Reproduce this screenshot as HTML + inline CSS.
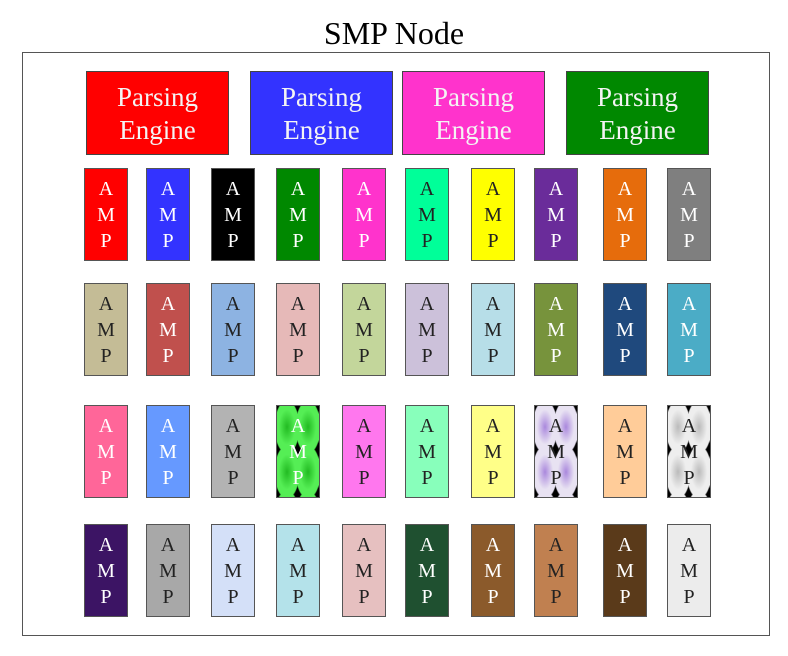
<!DOCTYPE html>
<html><head><style>
body{margin:0;width:788px;height:656px;background:#fff;position:relative;overflow:hidden;font-family:"Liberation Serif",serif}
.t{position:absolute;left:0;width:788px;top:14px;text-align:center;font-size:32px;line-height:38px;color:#000}
.o{position:absolute;left:22px;top:52px;width:746px;height:582px;border:1px solid #555}
.pe{position:absolute;top:71px;width:143px;height:84px;border:1.5px solid #444;color:#f4f4f4;font-size:27px;line-height:33px;text-align:center;box-sizing:border-box;padding-top:9px}
.a{position:absolute;width:44px;height:93px;border:1.5px solid #555;box-sizing:border-box;text-align:center;font-size:20px;line-height:26px;padding-top:7px;color:#fff}
.d{color:#222}
</style></head><body>
<div class="t">SMP Node</div>
<div class="o"></div>
<div class="pe" style="left:86px;background:#f00">Parsing<br>Engine</div>
<div class="pe" style="left:250px;background:#33f">Parsing<br>Engine</div>
<div class="pe" style="left:402px;background:#f3c">Parsing<br>Engine</div>
<div class="pe" style="left:566px;background:#080">Parsing<br>Engine</div>
<div id="g"></div>
<script>
var xs=[84,146,211,276,342,405,471,534,603,667],ys=[168,283,405,524];
function pat(c1,c2){return "radial-gradient(ellipse farthest-corner,"+c1+" 0,"+c2+" 55%,"+c2+" 80%,#000 86%)";}
var rows=[
[["#f00",0],["#33f",0],["#000",0],["#080",0],["#f3c",0],["#0f9",1],["#ff0",1],["#6a2c9a",0],["#e66c0c",0],["#7f7f7f",0]],
[["#c4bc96",1],["#c0504d",0],["#8db3e2",1],["#e6b9b8",1],["#c3d69b",1],["#ccc1da",1],["#b7dee8",1],["#77933c",0],["#1f497d",0],["#4bacc6",0]],
[["#f69",0],["#69f",0],["#b3b3b3",1],[pat("#2b2","#5e5"),0],["#f7e",1],["#8fb",1],["#ff8",1],[pat("#a8d","#e8e2f2"),1],["#fc9",1],[pat("#bbb","#eee"),1]],
[["#3c1464",0],["#a8a8a8",1],["#d4e0f8",1],["#b4e2ea",1],["#e6c0c0",1],["#1f5030",0],["#8b5a2b",0],["#c08050",1],["#5a3a1a",0],["#ececec",1]]];
var h="";
for(var r=0;r<4;r++)for(var c=0;c<10;c++){var b=rows[r][c][0];
var bg=b.indexOf("radial")==0?"background:"+b+";background-size:21px 45px;background-position:-0.5px -1.5px":"background:"+b;
h+='<div class="a'+(rows[r][c][1]?' d':'')+'" style="left:'+xs[c]+'px;top:'+ys[r]+'px;'+bg+'">A<br>M<br>P</div>';}
document.getElementById("g").innerHTML=h;
</script>
</body></html>
